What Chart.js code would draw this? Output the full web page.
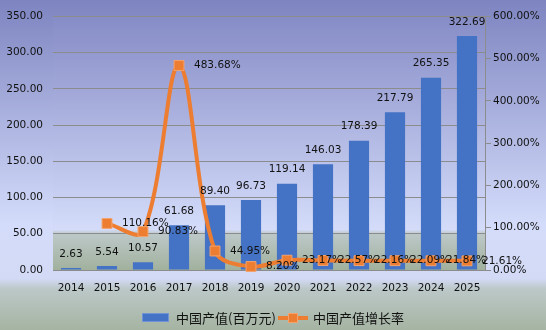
<!DOCTYPE html>
<html>
<head>
<meta charset="utf-8">
<script src="https://cdn.jsdelivr.net/npm/chart.js@4.4.0/dist/chart.umd.min.js"></script>
<style>
html,body{margin:0;padding:0;background:#fff;}
#wrap{width:546px;height:330px;position:relative;}
</style>
</head>
<body>
<div id="wrap"><canvas id="c" width="546" height="330"></canvas></div>
<script>
const categories = ['2014','2015','2016','2017','2018','2019','2020','2021','2022','2023','2024','2025'];
const outputValues = [2.63, 5.54, 10.57, 61.68, 89.40, 96.73, 119.14, 146.03, 178.39, 217.79, 265.35, 322.69];
const growthRates = [null, 110.16, 90.83, 483.68, 44.95, 8.20, 23.17, 22.57, 22.16, 22.09, 21.84, 21.61];
const seriesNames = ['中国产值(百万元)', '中国产值增长率'];
const leftTicks = {min: 0, max: 350, step: 50};
const rightTicks = {min: 0, max: 600, step: 100};

const BLUE = '#4472C4';
const ORANGE = '#ED7D31';
const FONT = 'DejaVu Sans, Verdana, sans-serif';
const CJK = '"Noto Sans CJK SC", sans-serif';

const bgPlugin = {
  id: 'bg',
  beforeDraw(chart) {
    const ctx = chart.ctx, W = chart.width, H = chart.height, a = chart.chartArea;
    ctx.save();
    let g = ctx.createLinearGradient(0, 0, 0, H);
    g.addColorStop(0, '#7d84c0');
    g.addColorStop(0.68, '#d4dcfb');
    g.addColorStop(0.845, '#d2daf5');
    g.addColorStop(0.875, '#bcc8c8');
    g.addColorStop(1, '#a5b4a2');
    ctx.fillStyle = g;
    ctx.fillRect(0, 0, W, H);
    g = ctx.createLinearGradient(0, a.top, 0, a.bottom);
    g.addColorStop(0, '#868cc6');
    g.addColorStop(0.84, '#d4dcfa');
    g.addColorStop(0.858, '#bcc8c8');
    g.addColorStop(1, '#a1b19d');
    ctx.fillStyle = g;
    ctx.fillRect(a.left, a.top, a.right - a.left, a.bottom - a.top);
    ctx.restore();
  }
};

const labelPlugin = {
  id: 'labels',
  afterDatasetsDraw(chart) {
    const ctx = chart.ctx;
    ctx.save();
    ctx.font = '10.5px ' + FONT;
    ctx.fillStyle = '#111';
    const barMeta = chart.getDatasetMeta(0);
    ctx.textAlign = 'center';
    ctx.textBaseline = 'middle';
    barMeta.data.forEach((el, i) => {
      ctx.fillText(outputValues[i].toFixed(2), el.x, el.y - 14);
    });
    const lineMeta = chart.getDatasetMeta(1);
    ctx.textAlign = 'left';
    lineMeta.data.forEach((el, i) => {
      if (growthRates[i] == null) return;
      ctx.fillText(growthRates[i].toFixed(2) + '%', el.x + 15, el.y);
    });
    // category labels, positioned by the x scale
    const xs = chart.scales.x;
    ctx.textAlign = 'center';
    categories.forEach((c, i) => {
      ctx.fillText(c, xs.getPixelForTick(i), xs.top + 18);
    });
    ctx.restore();
  },
  afterDraw(chart) {
    const ctx = chart.ctx;
    ctx.save();
    const cy = 318;
    ctx.fillStyle = BLUE;
    ctx.fillRect(142, cy - 5, 27, 9);
    ctx.strokeStyle = '#6f93d6';
    ctx.lineWidth = 1;
    ctx.strokeRect(142.5, cy - 4.5, 26, 8);
    ctx.font = '13px ' + CJK;
    ctx.fillStyle = '#111';
    ctx.textBaseline = 'middle';
    ctx.textAlign = 'left';
    ctx.fillText(seriesNames[0], 176, cy);
    ctx.strokeStyle = ORANGE;
    ctx.lineWidth = 4;
    ctx.beginPath();
    ctx.moveTo(278, cy);
    ctx.lineTo(308, cy);
    ctx.stroke();
    ctx.fillStyle = ORANGE;
    ctx.fillRect(288, cy - 5, 10, 10);
    ctx.strokeStyle = '#f4a36d';
    ctx.lineWidth = 1;
    ctx.strokeRect(288.5, cy - 4.5, 9, 9);
    ctx.fillStyle = '#111';
    ctx.fillText(seriesNames[1], 313, cy);
    ctx.restore();
  }
};

new Chart(document.getElementById('c'), {
  data: {
    labels: categories,
    datasets: [
      {
        type: 'bar',
        label: seriesNames[0],
        data: outputValues,
        backgroundColor: BLUE,
        borderWidth: 0,
        yAxisID: 'y',
        barPercentage: 0.56,
        categoryPercentage: 1.0,
        order: 2
      },
      {
        type: 'line',
        label: seriesNames[1],
        data: growthRates,
        borderColor: ORANGE,
        borderWidth: 4,
        backgroundColor: ORANGE,
        pointStyle: 'rect',
        pointRadius: 7,
        pointBorderColor: '#f4a36d',
        pointBorderWidth: 1,
        pointBackgroundColor: ORANGE,
        tension: 0.35,
        yAxisID: 'y1',
        order: 1,
        clip: false
      }
    ]
  },
  options: {
    responsive: false,
    animation: false,
    devicePixelRatio: 1,
    layout: {padding: {top: 11.7, bottom: 30, left: 0, right: 0}},
    plugins: {legend: {display: false}, tooltip: {enabled: false}},
    scales: {
      x: {
        grid: {display: false},
        border: {display: true, color: '#8c8c8c'},
        ticks: {display: false},
        afterFit(s) { s.height = 30; }
      },
      y: {
        position: 'left',
        min: leftTicks.min, max: leftTicks.max,
        ticks: {stepSize: leftTicks.step, font: {family: FONT, size: 10.5}, color: '#111', padding: 10,
          callback: v => Number(v).toFixed(2)},
        grid: {color: '#8c8c8c', drawTicks: false, lineWidth: 1},
        border: {display: false},
        afterFit(s) { s.width = 53; }
      },
      y1: {
        position: 'right',
        min: rightTicks.min, max: rightTicks.max,
        ticks: {stepSize: rightTicks.step, font: {family: FONT, size: 10.5}, color: '#111', padding: 2,
          callback: v => Number(v).toFixed(2) + '%'},
        grid: {drawOnChartArea: false, drawTicks: true, tickLength: 6, color: '#8c8c8c'},
        border: {display: true, color: '#8c8c8c'},
        afterFit(s) { s.width = 61; }
      }
    }
  },
  plugins: [bgPlugin, labelPlugin]
});
</script>
</body>
</html>
